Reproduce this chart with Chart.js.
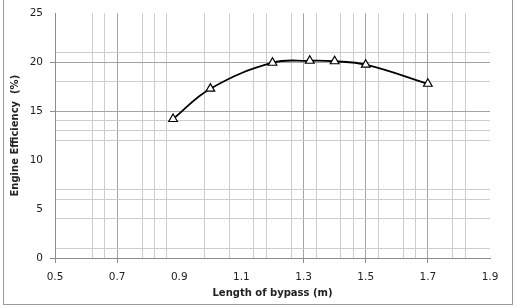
<!DOCTYPE html>
<html>
<head>
<meta charset="utf-8">
<script src="https://cdn.jsdelivr.net/npm/chart.js@4"></script>
<style>
    body { margin: 0; background: #fff; }
    #wrap { position: relative; width: 517px; height: 308px; overflow: hidden; }
    #frame { position: absolute; left: 3px; top: -2px; width: 510px; height: 307px; box-sizing: border-box; border: 1px solid #9a9a9a; }
    #chart { position: absolute; left: 0; top: 0; }
</style>
</head>
<body>
<div id="wrap">
    <div id="frame"></div>
    <canvas id="chart" width="517" height="308"></canvas>
</div>
<script>
// Chart values
const bypassLength = [0.88, 1.0, 1.2, 1.32, 1.4, 1.5, 1.7];
const efficiency = [14.2, 17.3, 19.95, 20.15, 20.1, 19.75, 17.8];

// Axis labels and the extra gridlines of the original sheet
const xLabels = [0.5, 0.7, 0.9, 1.1, 1.3, 1.5, 1.7, 1.9];
const xMajor = [0.7, 1.3, 1.5, 1.7];
const xMinor = [0.62, 0.66, 0.78, 0.82, 0.86, 0.98, 1.06, 1.14, 1.18, 1.26, 1.34, 1.42, 1.46, 1.54, 1.62, 1.66, 1.78, 1.82];
const yLabels = [0, 5, 10, 15, 20, 25];
const yMajor = [15, 20];
const yMinor = [1, 4, 6, 7, 12, 13, 14, 18, 21];

const MAJOR = '#a4a4a4';
const MINOR = '#cdcdcd';
const AXIS = '#8c8c8c';
const NONE = 'rgba(0,0,0,0)';

function has(list, v) {
    return list.some(item => Math.abs(item - v) < 1e-6);
}

function mergeTicks(...lists) {
    const vals = [];
    lists.flat().forEach(v => { if (!has(vals, v)) vals.push(v); });
    return vals.sort((a, b) => a - b).map(v => ({ value: v }));
}

const tickFont = { family: 'DejaVu Sans', size: 10.5 };
const titleFont = { family: 'DejaVu Sans', size: 10, weight: 'bold' };

new Chart(document.getElementById('chart'), {
    type: 'line',
    data: {
        datasets: [{
            data: bypassLength.map((x, i) => ({ x: x, y: efficiency[i] })),
            borderColor: '#000',
            borderWidth: 1.8,
            tension: 0.4,
            pointStyle: 'triangle',
            pointRadius: 5,
            pointBackgroundColor: '#fff',
            pointBorderColor: '#000',
            pointBorderWidth: 1.2
        }]
    },
    options: {
        responsive: false,
        animation: false,
        devicePixelRatio: 1,
        layout: { padding: { top: 12, right: 27, bottom: 9, left: 3 } },
        plugins: {
            legend: { display: false },
            tooltip: { enabled: false }
        },
        scales: {
            x: {
                type: 'linear',
                min: 0.5,
                max: 1.9,
                afterBuildTicks: scale => { scale.ticks = mergeTicks(xLabels, xMajor, xMinor); },
                afterFit: scale => { scale.height = 41; },
                ticks: {
                    autoSkip: false,
                    maxRotation: 0,
                    padding: 8,
                    color: '#222',
                    font: tickFont,
                    callback: value => has(xLabels, value) ? value.toFixed(1) : ''
                },
                grid: {
                    tickLength: 5,
                    lineWidth: 1,
                    color: ctx => {
                        const v = ctx.tick.value;
                        if (has(xMajor, v)) return MAJOR;
                        if (has(xMinor, v)) return MINOR;
                        return NONE;
                    },
                    tickColor: ctx => {
                        const v = ctx.tick.value;
                        return (has(xMajor, v) || v === 0.5) ? AXIS : NONE;
                    }
                },
                border: { color: AXIS, width: 1 },
                title: {
                    display: true,
                    text: 'Length of bypass (m)',
                    color: '#222',
                    font: titleFont,
                    padding: { top: 0, bottom: 0 }
                }
            },
            y: {
                min: 0,
                max: 25,
                afterBuildTicks: scale => { scale.ticks = mergeTicks(yLabels, yMajor, yMinor); },
                afterFit: scale => { scale.width = 52; },
                ticks: {
                    autoSkip: false,
                    padding: 7,
                    color: '#222',
                    font: tickFont,
                    callback: value => has(yLabels, value) ? String(value) : ''
                },
                grid: {
                    tickLength: 5,
                    lineWidth: 1,
                    color: ctx => {
                        const v = ctx.tick.value;
                        if (has(yMajor, v)) return MAJOR;
                        if (has(yMinor, v)) return MINOR;
                        return NONE;
                    },
                    tickColor: ctx => {
                        const v = ctx.tick.value;
                        return (has(yMajor, v) || v === 0) ? AXIS : NONE;
                    }
                },
                border: { color: AXIS, width: 1 },
                title: {
                    display: true,
                    text: 'Engine Efficiency  (%)',
                    color: '#222',
                    font: titleFont,
                    padding: { top: 6, bottom: 0 }
                }
            }
        }
    }
});
</script>
</body>
</html>
